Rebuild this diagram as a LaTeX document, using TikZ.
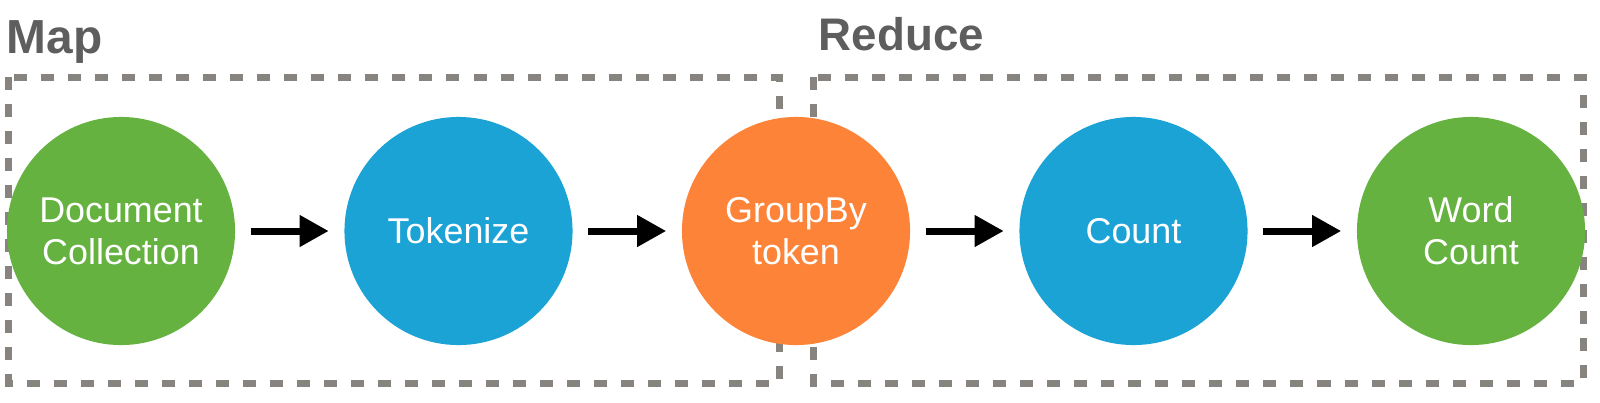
\documentclass[tikz,border=0pt]{standalone}
\usepackage{fontspec}
\setmainfont{Liberation Sans}
\usetikzlibrary{arrows.meta}

\definecolor{stagegreen}{RGB}{101,178,64}
\definecolor{stageblue}{RGB}{27,163,214}
\definecolor{stageorange}{RGB}{253,131,56}
\definecolor{boxgray}{RGB}{135,132,128}
\definecolor{titlegray}{RGB}{94,94,94}

\tikzset{
  stage/.style={circle, minimum size=2.28cm, inner sep=0pt, text=white, align=center,
    font=\fontsize{10.2}{12}\selectfont},
  flow/.style={-{Triangle[length=0.29cm,width=0.3cm]}, line width=0.07cm,
    shorten <=0.15cm, shorten >=0.15cm},
  phase/.style={draw=boxgray, line width=0.07cm, dash pattern=on 0.13cm off 0.14cm},
  phasetitle/.style={anchor=base west, inner sep=0pt, text=titlegray}
}

\begin{document}
\begin{tikzpicture}[x=0.01cm,y=0.01cm]
\useasboundingbox (0,0) rectangle (1600,402);

% phase boxes
\draw[phase] (8.5,325) rectangle (779,19);
\draw[phase] (813,325) rectangle (1583,19);
\node[phasetitle, font=\bfseries\fontsize{13.6}{15}\selectfont] (maplabel) at (6,349) {Map};
\node[phasetitle, font=\bfseries\fontsize{13}{15}\selectfont] (reducelabel) at (818,352) {Reduce};

% stages
\node[stage, fill=stagegreen] (doc) at (121,171) {Document\\Collection};
\node[stage, fill=stageblue] (tok) at (458.5,171) {Tokenize};
\node[stage, fill=stageorange] (group) at (796,171) {GroupBy\\token};
\node[stage, fill=stageblue] (count) at (1133.5,171) {Count};
\node[stage, fill=stagegreen] (words) at (1471,171) {Word\\Count};

\draw[flow] (doc) -- (tok);
\draw[flow] (tok) -- (group);
\draw[flow] (group) -- (count);
\draw[flow] (count) -- (words);
\end{tikzpicture}
\end{document}
